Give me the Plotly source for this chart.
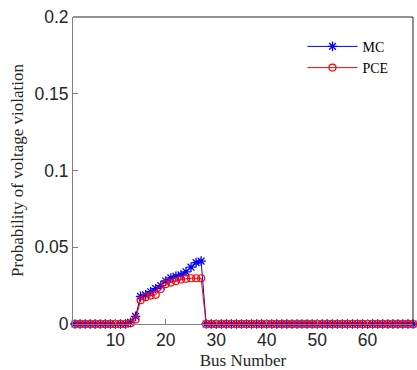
import plotly.graph_objects as go

bus = list(range(2, 70))
mc_mid = [0.001, 0.005, 0.018, 0.019, 0.021, 0.023, 0.025, 0.028, 0.030,
          0.031, 0.032, 0.034, 0.037, 0.040, 0.041]
pce_mid = [0.0005, 0.003, 0.0155, 0.0175, 0.0185, 0.019, 0.0228, 0.026, 0.027,
           0.028, 0.029, 0.0295, 0.0298, 0.0298, 0.0298]
mc = [0.0] * 11 + mc_mid + [0.0] * 42
pce = [0.0] * 11 + pce_mid + [0.0] * 42

x_ticks = [10, 20, 30, 40, 50, 60]
y_ticks = [0, 0.05, 0.1, 0.15, 0.2]
y_tick_text = ["0", "0.05", "0.1", "0.15", "0.2"]

fig = go.Figure()
fig.add_trace(go.Scatter(
    x=bus, y=mc, name="MC", mode="lines+markers",
    line=dict(color="#0000ff", width=1),
    marker=dict(symbol="asterisk", size=8, color="#0000ff",
                line=dict(color="#0000ff", width=1.3)),
    cliponaxis=False))
fig.add_trace(go.Scatter(
    x=bus, y=pce, name="PCE", mode="lines+markers",
    line=dict(color="#ff0000", width=1),
    marker=dict(symbol="circle-open", size=7, color="#ff0000",
                line=dict(color="#ff0000", width=1.2)),
    cliponaxis=False))

axis_common = dict(showgrid=False, zeroline=False, ticks="inside", ticklen=5,
                   tickcolor="#808080", linecolor="#808080", linewidth=1,
                   showline=True, mirror=False, automargin=False,
                   tickfont=dict(family="Liberation Sans, Arial", size=17.5, color="#262626"))

fig.update_layout(
    width=417, height=370,
    margin=dict(l=73, r=4, t=17, b=46),
    paper_bgcolor="white", plot_bgcolor="white",
    xaxis=dict(range=[1.6, 69], tickvals=x_ticks,
               title=dict(text="Bus Number", standoff=11,
                          font=dict(family="Liberation Serif, Times New Roman", size=17, color="#262626")),
               **axis_common),
    yaxis=dict(range=[0, 0.2], tickvals=y_ticks, ticktext=y_tick_text,
               title=dict(text="Probability of voltage violation", standoff=6,
                          font=dict(family="Liberation Serif, Times New Roman", size=17, color="#262626")),
               **axis_common),
    legend=dict(x=0.675, y=0.955, xanchor="left", yanchor="top",
                bgcolor="rgba(0,0,0,0)", itemwidth=50,
                font=dict(family="Liberation Serif, Times New Roman", size=14, color="#000000")),
    showlegend=True,
    shapes=[
        dict(type="line", xref="paper", yref="paper", x0=0, x1=1, y0=1, y1=1,
             line=dict(color="#262626", width=1)),
        dict(type="line", xref="paper", yref="paper", x0=1, x1=1, y0=0, y1=1,
             line=dict(color="#262626", width=1)),
    ],
)

fig.write_html("out.html", config={"displayModeBar": False},
               post_script="document.body.style.margin='0';document.body.style.overflow='hidden';")
